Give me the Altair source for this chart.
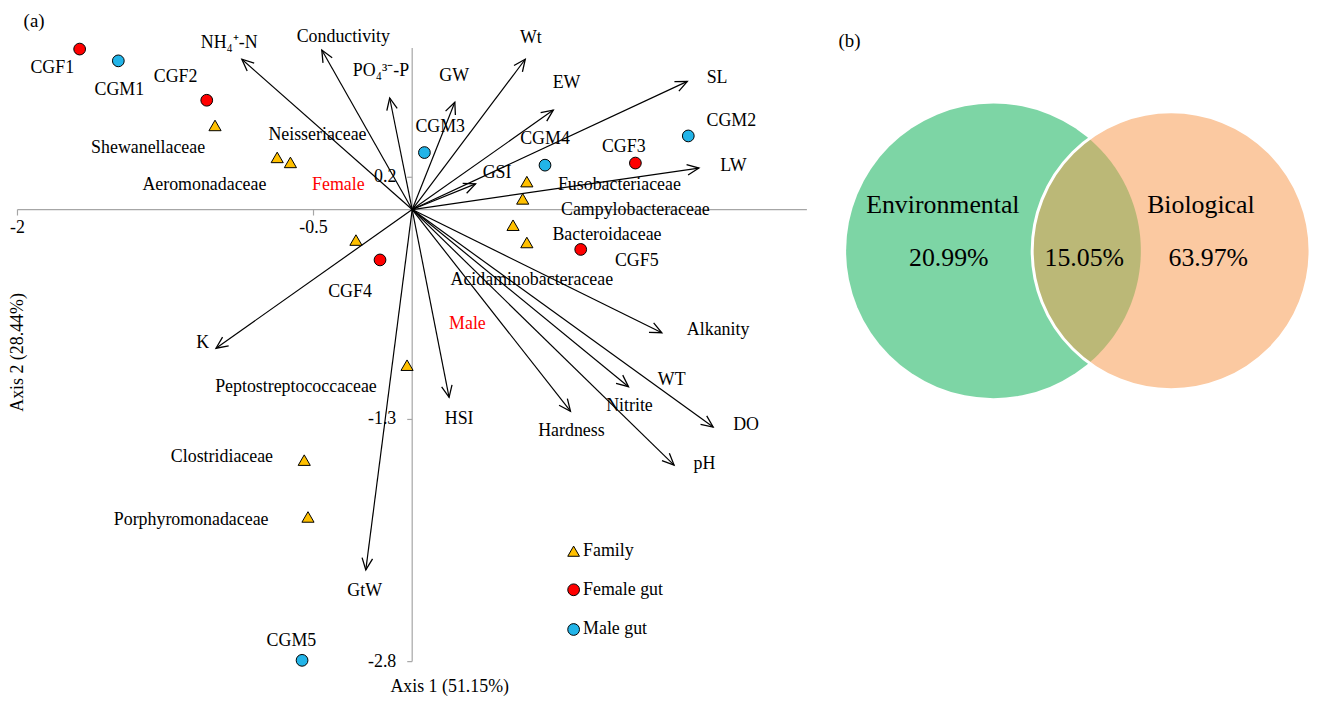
import math
import numpy as np
import pandas as pd
import altair as alt

FONT = "Liberation Serif"

# ---------------- panel (a): RDA biplot ----------------
X_MIN, X_MAX = -2.043, 2.0
Y_MIN, Y_MAX = -3.003, 1.226
W_A, H_A = 804, 688

axis_x_extent = [-2.0, 2.0]
axis_y_extent = [-2.8, 1.0]
x_ticks = [-2.0, -0.5, 1.0]
x_tick_labels = ["-2", "-0.5", ""]
y_ticks = [0.2, -1.3, -2.8]
y_tick_labels = ["0.2", "-1.3", "-2.8"]

# explanatory variable arrows (tips)
vec_names = ["NH4-N", "Conductivity", "PO4-P", "GW", "Wt", "EW", "SL", "LW", "GSI",
             "K", "GtW", "HSI", "Hardness", "Nitrite", "Alkanity", "DO", "pH"]
vec_x = [-0.863, -0.458, -0.114, 0.216, 0.573, 0.715, 1.394, 1.453, 0.321,
         -0.994, -0.235, 0.187, 0.802, 1.096, 1.265, 1.525, 1.327]
vec_y = [0.931, 0.988, 0.691, 0.665, 0.931, 0.616, 0.794, 0.257, 0.159,
         -0.859, -2.232, -1.163, -1.249, -1.097, -0.763, -1.347, -1.583]

# gut samples
sample_names = ["CGF1", "CGF2", "CGF3", "CGF4", "CGF5", "CGM1", "CGM2", "CGM3", "CGM4", "CGM5"]
sample_group = ["Female gut"] * 5 + ["Male gut"] * 5
sample_x = [-1.685, -1.041, 1.131, -0.163, 0.854, -1.489, 1.399, 0.062, 0.673, -0.558]
sample_y = [0.994, 0.677, 0.288, -0.312, -0.247, 0.921, 0.456, 0.353, 0.275, -2.792]

# bacterial families
family_x = [-0.999, -0.684, -0.617, -0.285, 0.581, 0.560, 0.511, 0.581, -0.026, -0.547, -0.528]
family_y = [0.521, 0.323, 0.292, -0.189, 0.173, 0.066, -0.097, -0.204, -0.964, -1.552, -1.904]

# text labels
label_text = ["CGF1", "CGM1", "CGF2", "NH\u2084\u207a-N", "Conductivity", "PO\u2084\u00b3\u207b-P",
              "Shewanellaceae", "Neisseriaceae", "Aeromonadaceae", "Female", "GW", "Wt", "EW", "SL",
              "CGM3", "CGM4", "CGF3", "CGM2", "LW", "GSI", "Fusobacteriaceae", "Campylobacteraceae",
              "Bacteroidaceae", "CGF5", "Acidaminobacteraceae", "Male", "Alkanity", "WT", "HSI",
              "Hardness", "Nitrite", "DO", "pH", "CGF4", "K", "Peptostreptococcaceae",
              "Clostridiaceae", "Porphyromonadaceae", "GtW", "CGM5"]
label_x = [-1.824, -1.484, -1.199, -0.927, -0.349, -0.158, -1.338, -0.480, -1.053, -0.374,
           0.213, 0.601, 0.782, 1.545, 0.142, 0.673, 1.072, 1.617, 1.628, 0.430,
           1.050, 1.131, 0.987, 1.138, 0.606, 0.280, 1.550, 1.315, 0.238, 0.807,
           1.101, 1.692, 1.481, -0.315, -1.061, -0.589, -0.964, -1.120, -0.241, -0.612]
label_y = [0.876, 0.739, 0.821, 1.034, 1.071, 0.857, 0.384, 0.462, 0.149, 0.149,
           0.825, 1.060, 0.784, 0.814, 0.513, 0.435, 0.390, 0.548, 0.272, 0.226,
           0.152, -0.005, -0.159, -0.318, -0.435, -0.708, -0.747, -1.056, -1.296, -1.372,
           -1.214, -1.337, -1.577, -0.511, -0.829, -1.101, -1.532, -1.921, -2.365, -2.672]
label_color = ["red" if t in ("Female", "Male") else "black" for t in label_text]

legend_names = ["Family", "Female gut", "Male gut"]
legend_shapes = ["triangle-up", "circle", "circle"]
legend_fills = ["#FFC000", "#FF0000", "#22B4E8"]
legend_marker_x = 0.818
legend_text_x = 0.866
legend_y = [-2.116, -2.355, -2.601]

titles = ["Axis 1 (51.15%)", "Axis 2 (28.44%)"]
title_x = [0.190, -1.995]
title_y = [-2.959, -0.885]
title_angle = [0, 270]

panel_a_label = "(a)"
panel_a_x = -1.916

AXIS_COL = "#A6A6A6"

xs = alt.Scale(domain=[X_MIN, X_MAX], nice=False, zero=False)
ys = alt.Scale(domain=[Y_MIN, Y_MAX], nice=False, zero=False)


def X(f="x"):
    return alt.X(f"{f}:Q", scale=xs, axis=None)


def Y(f="y"):
    return alt.Y(f"{f}:Q", scale=ys, axis=None)


sx = W_A / (X_MAX - X_MIN)
sy = H_A / (Y_MAX - Y_MIN)

axes_h = pd.DataFrame({"x": [axis_x_extent[0]], "x2": [axis_x_extent[1]], "y": [0.0]})
axes_v = pd.DataFrame({"x": [0.0], "y": [axis_y_extent[0]], "y2": [axis_y_extent[1]]})
xt = pd.DataFrame({"x": x_ticks, "y": [0.0] * 3, "y2": [0.0] * 3, "t": x_tick_labels})
yt = pd.DataFrame({"y": y_ticks, "x": [0.0] * 3, "x2": [0.0] * 3, "t": y_tick_labels})

vec = pd.DataFrame({"name": vec_names, "x": vec_x, "y": vec_y})
vec["x0"] = 0.0
vec["y0"] = 0.0
vec["angle"] = [(math.degrees(math.atan2(a * sx, b * sy)) + 360) % 360 for a, b in zip(vec_x, vec_y)]

samples = pd.DataFrame({"name": sample_names, "group": sample_group, "x": sample_x, "y": sample_y})
families = pd.DataFrame({"x": family_x, "y": family_y})
labels = pd.DataFrame({"text": label_text, "x": label_x, "y": label_y, "color": label_color})
legend = pd.DataFrame({"name": legend_names, "shape": legend_shapes, "fill": legend_fills,
                       "x": [legend_marker_x] * 3, "tx": [legend_text_x] * 3, "y": legend_y})
tdf = pd.DataFrame({"t": titles, "x": title_x, "y": title_y, "angle": title_angle})
adf = pd.DataFrame({"t": [panel_a_label], "x": [panel_a_x], "y": [Y_MAX]})

HEAD = "M -0.45 1 L 0 0 L 0.45 1"

l_axh = alt.Chart(axes_h).mark_rule(color=AXIS_COL, strokeWidth=1.2).encode(x=X(), x2="x2:Q", y=Y())
l_axv = alt.Chart(axes_v).mark_rule(color=AXIS_COL, strokeWidth=1.2).encode(x=X(), y=Y(), y2="y2:Q")
l_xt = alt.Chart(xt).mark_rule(color=AXIS_COL, strokeWidth=1.2, y2Offset=6).encode(x=X(), y=Y(), y2="y2:Q")
l_yt = alt.Chart(yt).mark_rule(color=AXIS_COL, strokeWidth=1.2, x2Offset=-5).encode(x=X(), x2="x2:Q", y=Y())
l_xtl = alt.Chart(xt).mark_text(font=FONT, fontSize=18, dy=19, color="black").encode(x=X(), y=Y(), text="t:N")
l_ytl = alt.Chart(yt).mark_text(font=FONT, fontSize=18, dx=-16, align="right", baseline="middle",
                                color="black").encode(x=X(), y=Y(), text="t:N")

l_vec = alt.Chart(vec).mark_rule(color="black", strokeWidth=1.2).encode(
    x=X("x0"), y=Y("y0"), x2="x:Q", y2="y:Q")
l_head = alt.Chart(vec).mark_point(shape=HEAD, size=560, filled=False, color="black",
                                   strokeWidth=1.3, opacity=1).encode(
    x=X(), y=Y(), angle=alt.Angle("angle:Q", scale=None))

l_fam = alt.Chart(families).mark_point(shape="triangle-up", filled=True, fill="#FFC000", stroke="black",
                                       strokeWidth=1, size=150, opacity=1).encode(x=X(), y=Y())
l_smp = alt.Chart(samples).mark_point(shape="circle", filled=True, stroke="black", strokeWidth=1,
                                      size=140, opacity=1).encode(
    x=X(), y=Y(),
    fill=alt.Fill("group:N", scale=alt.Scale(domain=["Female gut", "Male gut"],
                                             range=["#FF0000", "#22B4E8"]), legend=None))
l_lab = alt.Chart(labels).mark_text(font=FONT, fontSize=18, align="center", baseline="middle").encode(
    x=X(), y=Y(), text="text:N", color=alt.Color("color:N", scale=None))

l_leg_m = alt.Chart(legend).mark_point(filled=True, stroke="black", strokeWidth=1, size=140, opacity=1).encode(
    x=X(), y=Y(), shape=alt.Shape("shape:N", scale=None), fill=alt.Fill("fill:N", scale=None))
l_leg_t = alt.Chart(legend).mark_text(font=FONT, fontSize=18, align="left", baseline="middle",
                                      color="black").encode(x=X("tx"), y=Y(), text="name:N")

l_tit = alt.Chart(tdf).mark_text(font=FONT, fontSize=18, align="center", baseline="middle",
                                 color="black").encode(
    x=X(), y=Y(), text="t:N", angle=alt.Angle("angle:Q", scale=None))
l_a = alt.Chart(adf).mark_text(font=FONT, fontSize=19, align="center", baseline="top",
                               color="black").encode(x=X(), y=Y(), text="t:N")

chart_a = alt.layer(l_axh, l_axv, l_xt, l_yt, l_xtl, l_ytl, l_vec, l_head, l_fam, l_smp,
                    l_lab, l_leg_m, l_leg_t, l_tit, l_a).properties(width=W_A, height=H_A)

# ---------------- panel (b): Venn diagram ----------------
W_B, H_B = 505, 688
venn_sets = ["Environmental", "Biological"]
venn_cx = [185.0, 364.0]
venn_cy = [241.0, 241.0]
venn_r = [148.5, 140.0]
venn_fill = ["#7DD5A5", "#FBC9A1"]
lens_fill = "#BBB877"

venn_text = ["Environmental", "20.99%", "15.05%", "Biological", "63.97%"]
venn_tx = [134.0, 140.0, 276.5, 394.0, 401.5]
venn_ty = [195.0, 248.0, 248.0, 195.0, 248.0]

panel_b_label = "(b)"
panel_b_x, panel_b_y = 40.0, 29.5

# lens (intersection) outline from the two circles
cx1, cx2 = venn_cx
cy = venn_cy[0]
r1, r2 = venn_r
d = cx2 - cx1
a_ = (d * d + r1 * r1 - r2 * r2) / (2 * d)
h_ = math.sqrt(r1 * r1 - a_ * a_)
lens_x = cx1 + a_
S = 150.0
th0 = math.atan2(h_, lens_x - cx2)
ps0 = math.atan2(h_, lens_x - cx1)
pts = []
for t in np.linspace(th0, 2 * math.pi - th0, 80):
    pts.append((cx2 + r2 * math.cos(t), cy + r2 * math.sin(t)))
for t in np.linspace(-ps0, ps0, 80):
    pts.append((cx1 + r1 * math.cos(t), cy + r1 * math.sin(t)))
LENS = "M " + " L ".join(f"{(px - lens_x) / S:.4f} {(py - cy) / S:.4f}" for px, py in pts) + " Z"

bxs = alt.Scale(domain=[0, W_B], nice=False, zero=False)
bys = alt.Scale(domain=[H_B, 0], nice=False, zero=False)


def BX(f="x"):
    return alt.X(f"{f}:Q", scale=bxs, axis=None)


def BY(f="y"):
    return alt.Y(f"{f}:Q", scale=bys, axis=None)


g_df = pd.DataFrame({"x": [cx1], "y": [cy]})
o_df = pd.DataFrame({"x": [cx2], "y": [cy]})
lens_df = pd.DataFrame({"x": [lens_x], "y": [cy]})
vt_df = pd.DataFrame({"t": venn_text, "x": venn_tx, "y": venn_ty})
bl_df = pd.DataFrame({"t": [panel_b_label], "x": [panel_b_x], "y": [panel_b_y]})

b_green = alt.Chart(g_df).mark_point(shape="circle", filled=True, fill=venn_fill[0], strokeWidth=0,
                                     size=(2 * r1) ** 2, opacity=1).encode(x=BX(), y=BY())
b_orange = alt.Chart(o_df).mark_point(shape="circle", filled=True, fill=venn_fill[1], strokeWidth=0,
                                      size=(2 * r2) ** 2, opacity=1).encode(x=BX(), y=BY())
b_lens = alt.Chart(lens_df).mark_point(shape=LENS, filled=True, fill=lens_fill, strokeWidth=0,
                                       size=(2 * S) ** 2, opacity=1).encode(x=BX(), y=BY())
b_ring = alt.Chart(o_df).mark_point(shape="circle", filled=False, stroke="white", strokeWidth=3,
                                    size=(2 * r2) ** 2, opacity=1).encode(x=BX(), y=BY())
b_text = alt.Chart(vt_df).mark_text(font=FONT, fontSize=26, align="center", baseline="middle",
                                    color="black").encode(x=BX(), y=BY(), text="t:N")
b_lab = alt.Chart(bl_df).mark_text(font=FONT, fontSize=19, align="center", baseline="middle",
                                   color="black").encode(x=BX(), y=BY(), text="t:N")

chart_b = alt.layer(b_green, b_orange, b_lens, b_ring, b_text, b_lab).properties(width=W_B, height=H_B)

chart = alt.hconcat(chart_a, chart_b, spacing=0, padding=0).configure_view(stroke="transparent")

chart.save("out.html", embed_options={"renderer": "svg", "actions": False})
